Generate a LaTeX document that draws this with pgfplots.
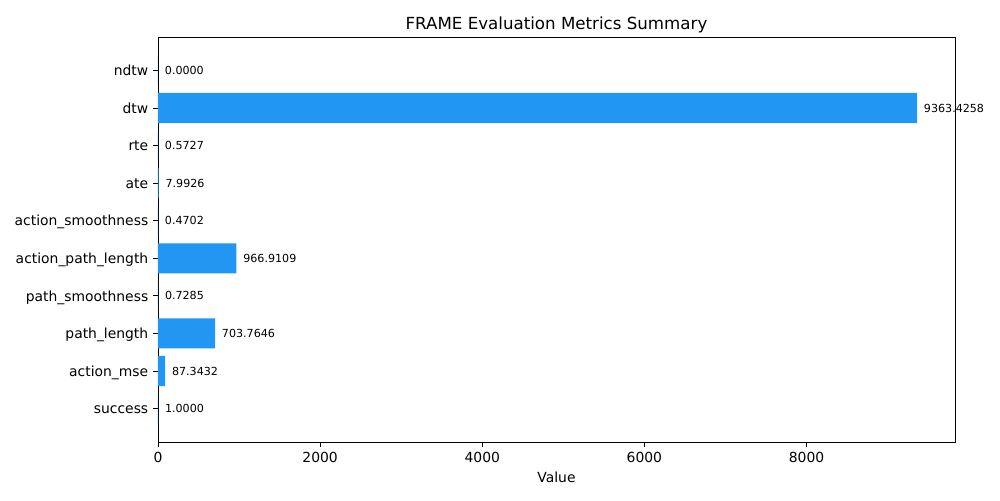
\documentclass[border=0pt]{standalone}
\usepackage{pgfplots}
\pgfplotsset{compat=1.18}
\usepackage{fontspec}
\setmainfont{DejaVu Sans}
\definecolor{barblue}{HTML}{2196F3}
\begin{document}
\begin{tikzpicture}
\useasboundingbox (-113.76pt,-41.76pt) rectangle (606.24pt,318.24pt);
\begin{axis}[
  at={(0,0)}, anchor=south west,
  scale only axis,
  width=573.84pt, height=291.6pt,
  xbar, bar width=0.8, bar shift=0pt,
  xmin=0, xmax=9831.6,
  ymin=-0.89, ymax=9.89,
  ytick={0,...,9},
  yticklabels={success,action\_mse,path\_length,path\_smoothness,action\_path\_length,action\_smoothness,ate,rte,dtw,ndtw},
  xtick={0,2000,4000,6000,8000},
  xticklabel style={/pgf/number format/1000 sep={}},
  /pgf/number format/assume math mode=true,
  tick align=outside,
  major tick length=3.5pt,
  xtick pos=bottom, ytick pos=left,
  tick style={black, line width=0.6pt},
  axis line style={line width=0.6pt},
  ticklabel style={font=\fontsize{10}{12}\selectfont},
  yticklabel style={text height=7.6pt, text depth=0pt},
  xlabel={Value},
  xlabel style={font=\fontsize{10}{12}\selectfont},
  title={FRAME Evaluation Metrics Summary},
  title style={font=\fontsize{12}{14}\selectfont, yshift=-6.3pt},
  point meta=explicit symbolic,
  nodes near coords={\pgfplotspointmeta},
  nodes near coords style={font=\fontsize{8}{10}\selectfont, anchor=west, inner sep=0pt, xshift=4.8pt, black},
]
\addplot[fill=barblue, draw=none] coordinates {
  (1.0000,0) [1.0000]
  (87.3432,1) [87.3432]
  (703.7646,2) [703.7646]
  (0.7285,3) [0.7285]
  (966.9109,4) [966.9109]
  (0.4702,5) [0.4702]
  (7.9926,6) [7.9926]
  (0.5727,7) [0.5727]
  (9363.4258,8) [9363.4258]
  (0.0000,9) [0.0000]
};
\end{axis}
\end{tikzpicture}
\end{document}
